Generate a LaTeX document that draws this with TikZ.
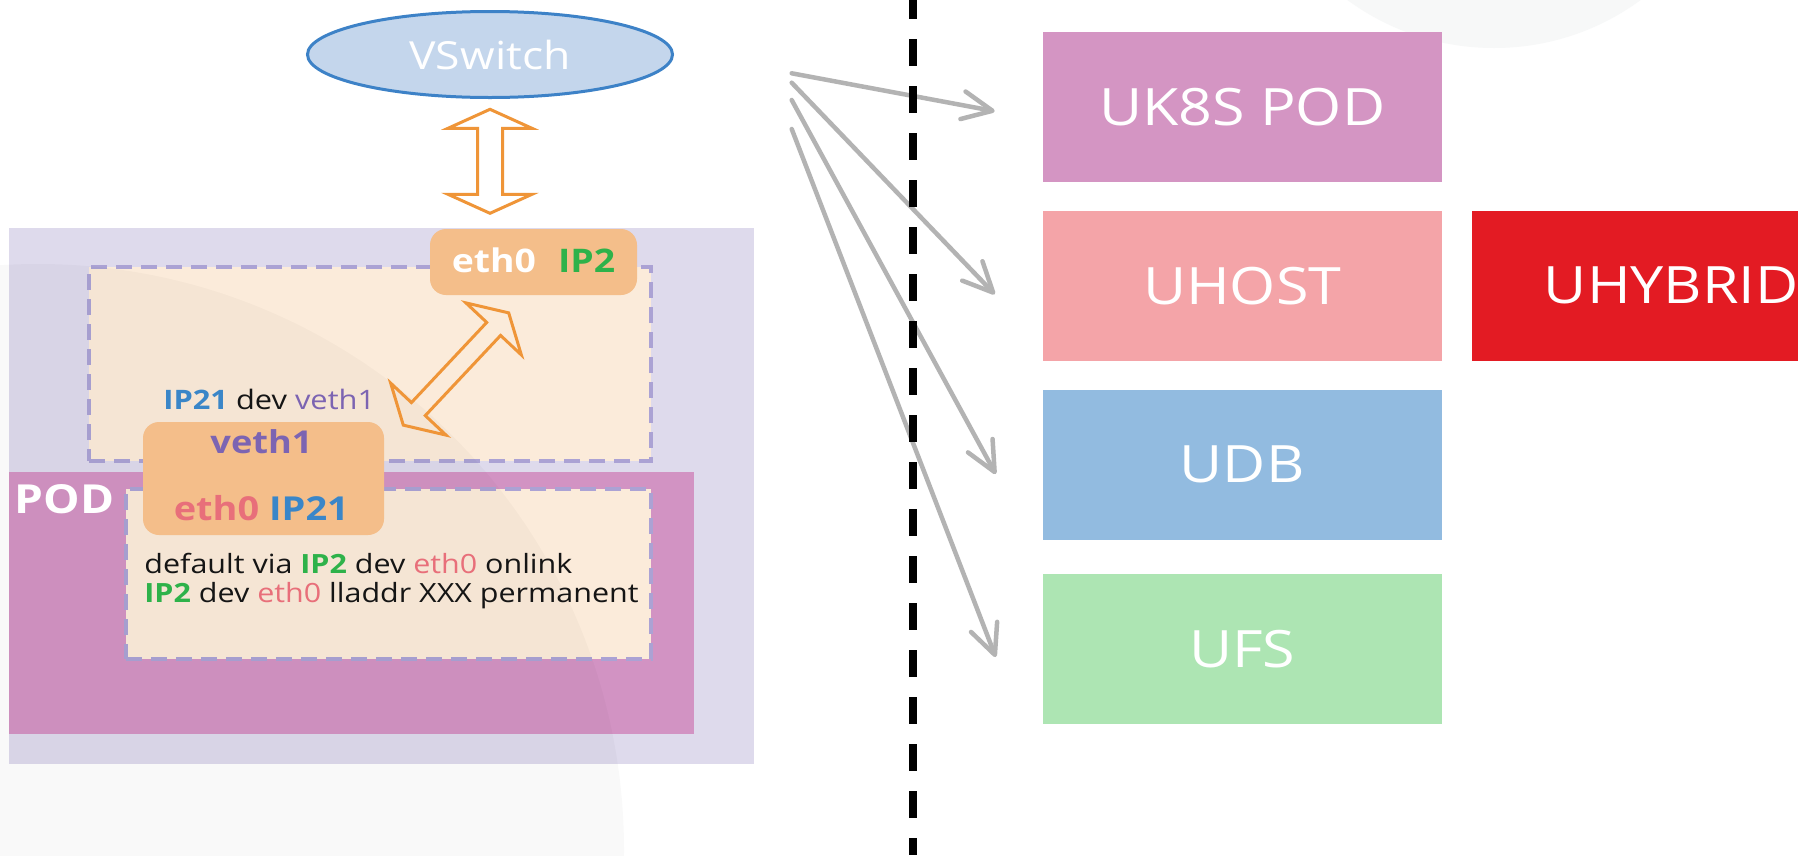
\documentclass[tikz,border=0pt]{standalone}
\usepackage{fontspec}
\setmainfont{Open Sans}[FakeStretch=1.15]
\usetikzlibrary{arrows.meta,shapes.geometric}
\definecolor{lav}{HTML}{DEDAEC}
\definecolor{podpink}{HTML}{D293C3}
\definecolor{beige}{HTML}{FBEBDA}
\definecolor{dashc}{HTML}{ABA2D4}
\definecolor{orbox}{HTML}{F4BE8A}
\definecolor{orline}{HTML}{EF9538}
\definecolor{vsfill}{HTML}{C4D6EC}
\definecolor{vsline}{HTML}{3D82C7}
\definecolor{ipgreen}{HTML}{2EB24A}
\definecolor{ipblue}{HTML}{3A86C8}
\definecolor{vpurple}{HTML}{7C64B2}
\definecolor{ethred}{HTML}{E86F7A}
\definecolor{greyarr}{HTML}{B3B3B3}
\definecolor{ukc}{HTML}{D495C3}
\definecolor{uhostc}{HTML}{F4A4A8}
\definecolor{udbc}{HTML}{92BBE0}
\definecolor{ufsc}{HTML}{ADE5B3}
\definecolor{uhybc}{HTML}{E31B23}
\definecolor{bgc}{HTML}{F7F8F8}
\definecolor{txt}{HTML}{151515}
\tikzset{
  nopad/.style={inner sep=0pt, outer sep=0pt},
  lbl/.style={nopad, anchor=base west, text=txt},
  rbox/.style={nopad, rectangle, minimum width=399pt, minimum height=150pt, text=white, font=\fontsize{51.5}{62}\selectfont},
  dbox/.style={nopad, rectangle, fill=beige, draw=dashc, line width=3.2pt, dash pattern=on 16pt off 9pt},
  obox/.style={nopad, rectangle, rounded corners=16pt, fill=orbox},
  oarrow/.style={draw=orline, line width=3pt, line join=miter},
  garrow/.style={draw=greyarr, line width=4.5pt, line cap=round, -{Straight Barb[length=30pt,width=28pt,round]}},
}
\newcommand{\bigdarrow}[6]{%
  \pgfmathsetmacro{\bdaA}{#3}\pgfmathsetmacro{\bdaB}{#3-#4}%
  \draw[oarrow, shift={#1}, rotate=#2] (-\bdaA,0) -- (-\bdaB,#5) -- (-\bdaB,#6) -- (\bdaB,#6) -- (\bdaB,#5) -- (\bdaA,0) -- (\bdaB,-#5) -- (\bdaB,-#6) -- (-\bdaB,-#6) -- (-\bdaB,-#5) -- cycle;}
\begin{document}
\begin{tikzpicture}[x=1pt,y=-1pt]
\useasboundingbox (0,0) rectangle (1798,855);
\fill[white] (0,0) rectangle (1798,855);
\fill[bgc] (1494,-200) circle[radius=248pt];

% left side containers
\node[nopad, fill=lav, minimum width=745pt, minimum height=536pt] (host) at (381.5,496) {};
\node[nopad, fill=podpink, minimum width=685pt, minimum height=262pt] (pod) at (351.5,603) {};
\node[dbox, minimum width=562pt, minimum height=194pt] (hostns) at (370,364) {};
\node[dbox, minimum width=525pt, minimum height=170pt] (podns) at (388.5,574) {};
\fill[black, opacity=0.025] (38,850) circle[radius=586pt];

% interface boxes
\node[obox, minimum width=207pt, minimum height=66pt] (ethip2) at (533.5,262) {};
\node[obox, minimum width=241pt, minimum height=113pt] (veth) at (263.5,478.5) {};

% VSwitch
\node[ellipse, draw=vsline, line width=3pt, fill=vsfill, minimum width=365pt, minimum height=86pt, inner sep=0pt, text=white, font=\fontsize{38.7}{46}\selectfont] (vswitch) at (490,54.5) {VSwitch};

% big double arrows
\bigdarrow{(490,161.3)}{90}{52}{19}{42}{12.5}
\bigdarrow{(456,369)}{46.8}{77}{22}{38}{9.5}

% texts
\node[lbl, anchor=base, font=\bfseries\fontsize{32.5}{38}\selectfont] (tethip2) at (533.5,272) {\textcolor{white}{eth0}\hspace{22pt}\textcolor{ipgreen}{IP2}};
\node[lbl, font=\fontsize{26.8}{32}\selectfont] (route1) at (163.3,409.3) {\textcolor{ipblue}{\bfseries IP21} dev \textcolor{vpurple}{veth1}};
\node[lbl, anchor=base, font=\bfseries\fontsize{31.5}{38}\selectfont, text=vpurple] (vethname) at (261.5,453.3) {veth1};
\node[lbl, anchor=base, font=\bfseries\fontsize{33}{40}\selectfont] (podeth) at (261.3,520) {\textcolor{ethred}{eth0} \textcolor{ipblue}{IP21}};
\node[lbl, font=\fontsize{26.5}{32}\selectfont] (route2) at (144.4,573.3) {default via \textcolor{ipgreen}{\bfseries IP2} dev \textcolor{ethred}{eth0} onlink};
\node[lbl, font=\fontsize{26.5}{32}\selectfont] (route3) at (144.4,602.7) {\textcolor{ipgreen}{\bfseries IP2} dev \textcolor{ethred}{eth0} lladdr XXX permanent};
\node[lbl, font=\bfseries\fontsize{40}{48}\selectfont, text=white] (podlbl) at (14.5,513.7) {POD};

% right boxes
\node[rbox, fill=ukc] (uk) at (1242.2,106.7) {UK8S POD};
\node[rbox, fill=uhostc] (uhost) at (1242.2,285.7) {UHOST};
\node[rbox, fill=udbc] (udb) at (1242.2,464.5) {UDB};
\node[rbox, fill=ufsc] (ufs) at (1242.2,649) {UFS};
\node[rbox, fill=uhybc] (uhyb) at (1671.2,285.7) {UHYBRID};

% grey arrows
\coordinate (s1) at (791.7,73.3);
\coordinate (s2) at (791.7,82.7);
\coordinate (s3) at (791.7,100);
\coordinate (s4) at (791.7,129);
\coordinate (e1) at ([shift={(-48,4.5)}]uk.west);
\coordinate (e2) at ([shift={(-48,8.5)}]uhost.west);
\coordinate (e3) at ([shift={(-47,9.5)}]udb.west);
\coordinate (e4) at ([shift={(-47,8)}]ufs.west);
\draw[garrow] (s1) -- (e1);
\draw[garrow] (s2) -- (e2);
\draw[garrow] (s3) -- (e3);
\draw[garrow] (s4) -- (e4);

% divider
\coordinate (dtop) at (913,0);
\coordinate (dbot) at (913,855);
\draw[line width=8pt, dash pattern=on 27pt off 20pt, dash phase=8pt] (dtop) -- (dbot);
\end{tikzpicture}
\end{document}
